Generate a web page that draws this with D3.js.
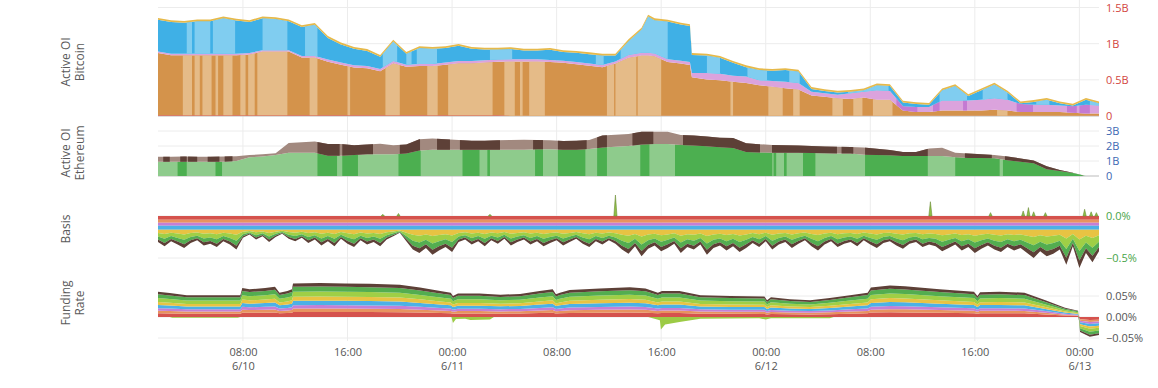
<!DOCTYPE html>
<html>
<head>
<meta charset="utf-8">
<script src="https://cdn.jsdelivr.net/npm/d3@7"></script>
<style>
  body { margin: 0; background: #fff; }
  svg text { font-family: "Open Sans", sans-serif; }
</style>
</head>
<body>
<svg id="chart" width="1158" height="388"></svg>
<script>
// time is in hours since 6/10 00:00
var hourTicks = [8, 16, 24, 32, 40, 48, 56, 64, 72];
var hourTickTime = ["08:00", "16:00", "00:00", "08:00", "16:00", "00:00", "08:00", "16:00", "00:00"];
var hourTickDate = ["6/10", "", "6/11", "", "", "6/12", "", "", "6/13"];

// --- Active OI Bitcoin (billions, stacked) ---
var btcTime = [1.5,2.5,3.5,4.5,5.5,6.5,7.5,8.5,9.5,10.5,11.5,12.5,13.5,14.5,15.5,16.5,17.5,18.5,19.5,20.5,
  21.5,22.5,23.5,24.5,25.5,26.5,27.5,28.5,29.5,30.5,31.5,32.5,33.5,34.5,35.5,36.5,37.5,38.5,39.0,39.5,40.5,41.5,
  42.2,42.35,43.5,44.5,45.5,46.5,47.5,48.5,49.5,50.5,51.5,52.5,53.5,54.5,55.5,56.5,57.5,58.5,59.5,60.5,61.5,62.5,
  63.5,64.5,65.5,66.5,67.5,68.5,69.5,70.5,71.5,72.5,73.5];
var btcRed = [.01,.01,.01,.01,.01,.01,.01,.01,.01,.01,.01,.01,.01,.01,.01,.01,.01,.01,.01,.01,.01,.01,.01,.01,.01,.01,.01,
  .005,.005,.005,.005,.005,.005,.005,.005,.005,.005,.005,.005,.005,.005,.005,.005,.005,.005,.005,.005,.005,.005,.005,
  .005,.005,.005,.005,.005,.005,.005,.005,.005,.005,.005,.005,.005,.005,.005,.005,.005,.005,.005,.005,.005,.005,.005,.005,.005];
var btcOrange = [.86,.83,.83,.83,.83,.83,.83,.84,.88,.88,.88,.80,.80,.74,.70,.66,.65,.61,.72,.67,
  .68,.68,.70,.72,.72,.73,.74,.75,.75,.75,.74,.73,.71,.69,.67,.72,.80,.83,.83,.82,.74,.72,.70,.53,
  .50,.49,.47,.45,.42,.40,.38,.36,.28,.26,.24,.23,.25,.22,.22,.07,.05,.05,.07,.07,
  .07,.07,.08,.07,.05,.05,.05,.05,.04,.03,.03];
var btcPink = [.02,.02,.02,.02,.02,.02,.02,.02,.02,.02,.02,.02,.02,.03,.03,.03,.03,.03,.03,.03,
  .03,.03,.03,.03,.03,.03,.03,.03,.03,.03,.03,.03,.03,.03,.03,.03,.04,.04,.04,.04,.04,.04,.04,.06,
  .09,.09,.08,.09,.07,.08,.09,.09,.05,.05,.05,.08,.08,.13,.12,.06,.07,.07,.14,.14,
  .14,.15,.16,.15,.11,.10,.10,.09,.09,.12,.11];
var btcBlue = [.44,.44,.43,.45,.45,.49,.46,.43,.44,.43,.40,.40,.43,.30,.25,.23,.21,.17,.27,.15,
  .22,.21,.20,.21,.17,.15,.14,.14,.12,.12,.14,.12,.13,.13,.13,.08,.19,.32,.50,.46,.52,.50,.50,.25,
  .24,.22,.18,.13,.14,.14,.16,.16,.04,.03,.03,.02,.02,.07,.07,.05,.04,.03,.14,.20,
  .06,.13,.19,.10,.01,.04,.07,.03,.01,.07,.03];
var btcYellow = [.025,.025,.025,.025,.025,.025,.025,.025,.025,.025,.025,.025,.025,.025,.025,.025,.025,.025,.025,.025,
  .025,.025,.025,.025,.025,.025,.025,.025,.025,.025,.025,.025,.025,.025,.025,.025,.025,.025,.025,.025,.025,.025,.025,.025,
  .025,.025,.025,.025,.025,.025,.025,.025,.025,.025,.025,.025,.025,.025,.025,.025,.025,.025,.025,.025,
  .025,.025,.025,.025,.025,.025,.025,.025,.025,.025,.025];
// periods where a layer is drawn in its alternate shade
var btcOrangeLight = [[3.4,4.1],[4.3,4.7],[4.9,5.6],[5.9,6.1],[6.5,7.2],[7.8,8.2],[8.4,8.9],[9.1,11.4],[13.1,13.7],
  [16.0,16.2],[18.9,20.0],[22.1,22.9],[23.7,27.1],[28.0,28.8],[29.2,29.4],[29.9,31.1],[35.85,36.4],[36.5,38.1],
  [38.2,40.0],[45.3,45.5],[48.2,49.3],[50.1,50.6],[53.1,53.9],[54.7,55.4],[56.2,57.7],[65.7,66.5]];
var btcBlueLight = [[3.7,4.1],[4.3,5.5],[5.7,7.4],[9.5,11.4],[12.75,13.7],[18.7,19.8],[20.5,20.9],[21.3,22.85],
  [26.9,28.6],[35.0,35.6],[36.9,40.5],[43.5,44.5],[46.6,48.1],[49.8,50.6],[54.3,57.4],[61.3,63.4],[64.6,66.5],
  [68.7,69.7],[72.8,73.6]];
var btcPinkDark = [[58.0,59.6],[60.8,61.3],[63.1,63.4],[67.2,68.45],[71.05,71.8],[72.0,72.8]];

// --- Active OI Ethereum (billions, stacked, hourly) ---
var ethGreen = [.95,.95,.95,.95,.95,.95,1.0,1.25,1.3,1.4,1.55,1.55,1.55,1.35,1.35,1.4,1.45,1.45,1.45,1.5,
  1.7,1.75,1.75,1.75,1.75,1.75,1.75,1.75,1.75,1.78,1.78,1.75,1.75,1.8,1.9,1.95,2.0,2.1,2.13,2.13,
  2.07,2.03,1.98,1.92,1.87,1.6,1.57,1.55,1.55,1.55,1.53,1.52,1.5,1.5,1.42,1.4,1.38,1.33,1.33,1.33,
  1.33,1.25,1.2,1.2,1.18,1.05,0.95,0.85,0.45,0.33,0.2,0,0];
var ethBrown = [.34,.33,.35,.34,.33,.35,.32,.15,.15,.12,.65,.70,.75,.78,.78,.65,.65,.70,.60,.60,
  .75,.75,.70,.65,.60,.60,.63,.65,.67,.62,.60,.58,.60,.60,.80,.80,.80,.85,.82,.82,
  .66,.67,.65,.63,.66,.58,.55,.52,.50,.48,.47,.45,.45,.44,.48,.42,.35,.27,.27,.50,
  .55,.30,.30,.25,.22,.25,.22,.18,.20,.07,.02,0,0];
var ethGreenDark = [[3.0,3.7],[5.9,6.4],[13.7,15.2],[15.6,16.8],[19.9,21.6],[24.8,26.1],[26.7,26.9],[30.35,30.96],
  [32.1,34.2],[35.1,35.85],[38.4,39.1],[41.06,48.5],[48.6,48.8],[49.4,49.6],[50.85,51.8],[55.6,60.4],[62.5,65.9],[66.15,72.3]];
var ethBrownDark = [[1.9,2.4],[3.2,3.7],[3.8,4.5],[5.3,6.2],[6.6,7.2],[13.7,15.4],[15.6,17.95],[20.0,21.55],[22.85,23.84],
  [24.6,27.67],[30.2,30.96],[32.1,34.3],[35.1,35.85],[37.8,39.4],[41.67,47.56],[48.48,53.45],[53.8,54.7],[55.6,60.4],
  [63.24,65.3],[66.3,71.5]];

// --- Basis (%, every 30 min) ---
var basisTotal = [-0.31,-0.36,-0.30,-0.34,-0.38,-0.32,-0.29,-0.35,-0.33,-0.37,-0.30,-0.34,-0.40,
  -0.26,-0.22,-0.28,-0.24,-0.31,-0.25,-0.21,-0.27,-0.30,-0.26,
  -0.32,-0.28,-0.35,-0.30,-0.36,-0.27,-0.33,-0.37,-0.29,-0.34,-0.31,-0.36,-0.28,
  -0.24,-0.20,-0.30,
  -0.40,-0.44,-0.38,-0.46,-0.41,-0.37,-0.43,
  -0.31,-0.28,-0.34,-0.30,-0.36,-0.29,-0.33,-0.27,-0.35,-0.31,-0.28,-0.34,-0.30,-0.36,-0.32,
  -0.29,-0.35,-0.31,-0.27,-0.33,-0.37,-0.30,-0.34,-0.29,-0.33,
  -0.40,-0.45,-0.36,-0.48,-0.39,
  -0.35,-0.42,-0.38,-0.33,-0.44,-0.37,-0.40,-0.34,-0.46,-0.38,-0.35,-0.41,-0.36,-0.43,-0.38,
  -0.32,-0.37,-0.30,-0.40,-0.34,-0.31,-0.38,-0.33,-0.29,-0.36,-0.41,-0.34,-0.30,-0.37,-0.33,
  -0.31,-0.36,-0.29,-0.34,-0.38,-0.32,-0.30,-0.35,-0.39,-0.33,-0.31,-0.37,-0.34,
  -0.36,-0.42,-0.38,-0.34,-0.41,-0.37,-0.44,-0.39,-0.35,-0.40,-0.43,-0.37,-0.41,-0.38,
  -0.44,-0.50,-0.42,-0.48,-0.45,
  -0.40,-0.58,-0.36,-0.62,-0.44,-0.55,-0.42];
var basisUpper = [-0.045, -0.035, -0.035, -0.05];    // red, orange, purple, blue
var basisLowerShare = [0.25, 0.3, 0.25, 0.2];         // yellow, lime, green, brown
var basisSpikeTime = [18.7, 19.9, 26.9, 36.5, 60.6, 65.2, 67.7, 68.1, 68.5, 69.4, 72.4, 72.9, 73.3];
var basisSpike = [.02, .03, .02, .25, .17, .04, .06, .10, .05, .04, .08, .05, .04];

// --- Funding rate (%) ---
var fundingTime = [1.5,2.4,3.7,4.7,6.2,7.8,7.95,8.5,9.7,10.45,10.8,11.4,11.75,11.83,13.9,15.8,17.7,20.0,21.55,23.1,
  23.9,24.07,24.45,26.1,27.7,29.2,30.7,31.7,31.95,32.25,33.0,35.3,37.6,38.8,39.75,40.06,41.4,43.0,45.3,47.9,
  48.1,48.4,49.85,51.4,52.9,54.45,55.8,56.05,57.5,58.65,61.3,63.93,64.2,64.4,65.9,67.8,69.4,70.9,71.9,72.05,72.8,73.5];
var fundingTotal = [.060,.057,.052,.052,.052,.052,.069,.066,.069,.072,.058,.062,.066,.080,.081,.080,.079,.077,.070,.062,
  .058,.050,.056,.056,.053,.055,.062,.066,.054,.058,.064,.068,.071,.068,.058,.062,.062,.052,.050,.049,
  .040,.047,.042,.040,.045,.052,.058,.070,.075,.073,.066,.060,.050,.059,.060,.058,.040,.022,.015,-.036,-.047,-.043];
var fundingShare = [.15, .10, .10, .13, .12, .15, .15, .10];
var fundingNegTime = [1.5,2.4,2.6,7.6,7.8,23.95,24.07,24.3,25.0,25.4,26.9,27.2,39.0,39.9,39.98,40.3,41.4,43.0,47.5,48.0,48.4,52.9,53.2,73.5];
var fundingNeg = [0,0,-.002,-.002,0,0,-.014,-.005,-.004,-.007,-.006,0,0,-.008,-.030,-.018,-.012,-.004,-.003,-.006,-.003,-.003,0,0];

var layerKeys = ["red", "orange", "purple", "blue", "yellow", "lime", "green", "brown"];
var layerColors = ["#d5524d", "#e8935f", "#c57fd5", "#4cb1e6", "#e8c343", "#9fcf46", "#53ad50", "#5d4037"];

var svg = d3.select("#chart");
var defs = svg.append("defs");
var x = d3.scaleLinear().domain([1.5, 73.5]).range([158, 1099]);

var yBtc = d3.scaleLinear().domain([0, 1.5]).range([116, 7.5]);
var yEth = d3.scaleLinear().domain([0, 3]).range([176, 131]);
var yBasis = d3.scaleLinear().domain([0, -0.5]).range([216, 258]);
var yFund = d3.scaleLinear().domain([0, 0.05]).range([317, 296]);

// grid
var grid = svg.append("g").attr("class", "grid");
grid.selectAll("line.v").data(hourTicks).enter().append("line")
    .attr("x1", function(d) { return x(d); }).attr("x2", function(d) { return x(d); })
    .attr("y1", 0).attr("y2", 341)
    .attr("stroke", "#ececec");

function hGrid(scale, values) {
    grid.selectAll(null).data(values).enter().append("line")
        .attr("x1", 158).attr("x2", 1099)
        .attr("y1", function(d) { return scale(d); }).attr("y2", function(d) { return scale(d); })
        .attr("stroke", "#ececec");
}
hGrid(yBtc, [0.5, 1, 1.5]);
hGrid(yEth, [1, 2, 3]);
hGrid(yBasis, [0, -0.5]);
hGrid(yFund, [-0.05, 0, 0.05]);

function addBandClip(id, bands) {
    defs.append("clipPath").attr("id", id)
        .selectAll("rect").data(bands).enter().append("rect")
        .attr("x", function(d) { return x(d[0]); })
        .attr("width", function(d) { return Math.max(0.8, x(d[1]) - x(d[0])); })
        .attr("y", 0).attr("height", 388);
}

function buildRows(time, keys, arrays) {
    return time.map(function(t, i) {
        var row = {t: t};
        keys.forEach(function(k, j) { row[k] = arrays[j][i]; });
        return row;
    });
}

function areaFor(y) {
    return d3.area()
        .x(function(d) { return x(d.data.t); })
        .y0(function(d) { return y(d[0]); })
        .y1(function(d) { return y(d[1]); });
}

// baselines
svg.append("line").attr("x1", 158).attr("x2", 1099).attr("y1", yBtc(0)).attr("y2", yBtc(0)).attr("stroke", "#bbb");
svg.append("line").attr("x1", 158).attr("x2", 1099).attr("y1", yEth(0)).attr("y2", yEth(0)).attr("stroke", "#bbb");

// ---- bitcoin ----
var btcKeys = ["red", "orange", "pink", "blue", "yellow"];
var btcBase = {red: "#d9534f", orange: "#d4934b", pink: "#dba3dd", blue: "#3fb0e6", yellow: "#e6b94a"};
var btcAlt = {orange: ["#e5bb88", btcOrangeLight], blue: ["#80cdf0", btcBlueLight], pink: ["#c47ad2", btcPinkDark]};
var btcSeries = d3.stack().keys(btcKeys)(buildRows(btcTime, btcKeys, [btcRed, btcOrange, btcPink, btcBlue, btcYellow]));
var btcArea = areaFor(yBtc);
var gBtc = svg.append("g");
btcSeries.forEach(function(s) {
    gBtc.append("path").datum(s).attr("d", btcArea).attr("fill", btcBase[s.key]);
    if (btcAlt[s.key]) {
        addBandClip("band-btc-" + s.key, btcAlt[s.key][1]);
        gBtc.append("path").datum(s).attr("d", btcArea)
            .attr("fill", btcAlt[s.key][0])
            .attr("clip-path", "url(#band-btc-" + s.key + ")");
    }
});

// ---- ethereum ----
var ethKeys = ["green", "brown"];
var ethTime = d3.range(1.5, 74, 1);
var ethSeries = d3.stack().keys(ethKeys)(buildRows(ethTime, ethKeys, [ethGreen, ethBrown]));
var ethArea = areaFor(yEth);
var ethShade = {green: ["#8ecb8c", "#4caf50", ethGreenDark], brown: ["#a2897f", "#5d4037", ethBrownDark]};
ethSeries.forEach(function(s) {
    svg.append("path").datum(s).attr("d", ethArea).attr("fill", ethShade[s.key][0]);
    addBandClip("band-eth-" + s.key, ethShade[s.key][2]);
    svg.append("path").datum(s).attr("d", ethArea)
        .attr("fill", ethShade[s.key][1])
        .attr("clip-path", "url(#band-eth-" + s.key + ")");
});

// ---- basis ----
var basisTime = d3.range(1.5, 73.75, 0.5);
var upperSum = d3.sum(basisUpper);
var basisRows = basisTime.map(function(t, i) {
    var row = {t: t};
    var rest = basisTotal[i] - upperSum;
    layerKeys.forEach(function(k, j) {
        row[k] = j < 4 ? basisUpper[j] : rest * basisLowerShare[j - 4];
    });
    return row;
});
var basisSeries = d3.stack().keys(layerKeys).offset(d3.stackOffsetDiverging)(basisRows);
var basisArea = areaFor(yBasis);
basisSeries.forEach(function(s, j) {
    svg.append("path").datum(s).attr("d", basisArea).attr("fill", layerColors[j]);
});
svg.selectAll("path.spike").data(basisSpikeTime).enter().append("path")
    .attr("class", "spike")
    .attr("d", function(t, i) {
        return "M" + x(t - 0.12) + "," + yBasis(0) + "L" + x(t) + "," + yBasis(basisSpike[i]) +
            "L" + x(t + 0.12) + "," + yBasis(0) + "Z";
    })
    .attr("fill", "#8fbf45")
    .attr("stroke", "#6e8f3b")
    .attr("stroke-width", 0.6);

// ---- funding ----
var fundRows = fundingTime.map(function(t, i) {
    var row = {t: t};
    layerKeys.forEach(function(k, j) { row[k] = fundingTotal[i] * fundingShare[j]; });
    return row;
});
var fundSeries = d3.stack().keys(layerKeys).offset(d3.stackOffsetDiverging)(fundRows);
var fundArea = areaFor(yFund);
svg.append("path")
    .datum(fundingNegTime.map(function(t, i) { return [t, fundingNeg[i]]; }))
    .attr("d", d3.area()
        .x(function(d) { return x(d[0]); })
        .y0(yFund(0))
        .y1(function(d) { return yFund(d[1]); }))
    .attr("fill", "#9ccb45");
fundSeries.forEach(function(s, j) {
    svg.append("path").datum(s).attr("d", fundArea).attr("fill", layerColors[j]);
});

// ---- right axes ----
function rightAxis(scale, values, fmt, color) {
    var g = svg.append("g")
        .attr("transform", "translate(1099,0)")
        .call(d3.axisRight(scale).tickValues(values).tickFormat(fmt).tickSize(0).tickPadding(7));
    g.select(".domain").remove();
    g.selectAll("text")
        .attr("fill", color)
        .style("font-size", "11px")
        .style("font-family", "'Open Sans', sans-serif");
}
var minus = function(s) { return s.replace("-", "\u2212"); };
rightAxis(yBtc, [0, 0.5, 1, 1.5], function(d) { return d === 0 ? "0" : d + "B"; }, "#d2463f");
rightAxis(yEth, [0, 1, 2, 3], function(d) { return d === 0 ? "0" : d + "B"; }, "#3d68b2");
rightAxis(yBasis, [0, -0.5], function(d) { return minus(d3.format(".1f")(d) + "%"); }, "#47a447");
rightAxis(yFund, [-0.05, 0, 0.05], function(d) { return minus(d3.format(".2f")(d) + "%"); }, "#555");

// ---- time axis ----
var xg = svg.append("g")
    .attr("transform", "translate(0,345)")
    .call(d3.axisBottom(x).tickValues(hourTicks).tickSize(0).tickPadding(3)
        .tickFormat(function(d, i) { return hourTickTime[i]; }));
xg.select(".domain").remove();
xg.selectAll("text")
    .attr("fill", "#555")
    .style("font-size", "11px")
    .style("font-family", "'Open Sans', sans-serif")
    .each(function(d, i) {
        if (!hourTickDate[i]) return;
        d3.select(this).append("tspan")
            .attr("x", 0).attr("dy", "1.25em")
            .text(hourTickDate[i]);
    });

// ---- panel titles ----
var titles = [
    {lines: ["Active OI", "Bitcoin"], y: 62},
    {lines: ["Active OI", "Ethereum"], y: 153},
    {lines: ["Basis"], y: 229},
    {lines: ["Funding", "Rate"], y: 303}
];
titles.forEach(function(tt) {
    tt.lines.forEach(function(line, i) {
        svg.append("text")
            .attr("transform", "translate(" + (70 + i * 13.5) + "," + tt.y + ") rotate(-90)")
            .attr("text-anchor", "middle")
            .attr("fill", "#5a5a5a")
            .style("font-size", "12px")
            .text(line);
    });
});
</script>
</body>
</html>
